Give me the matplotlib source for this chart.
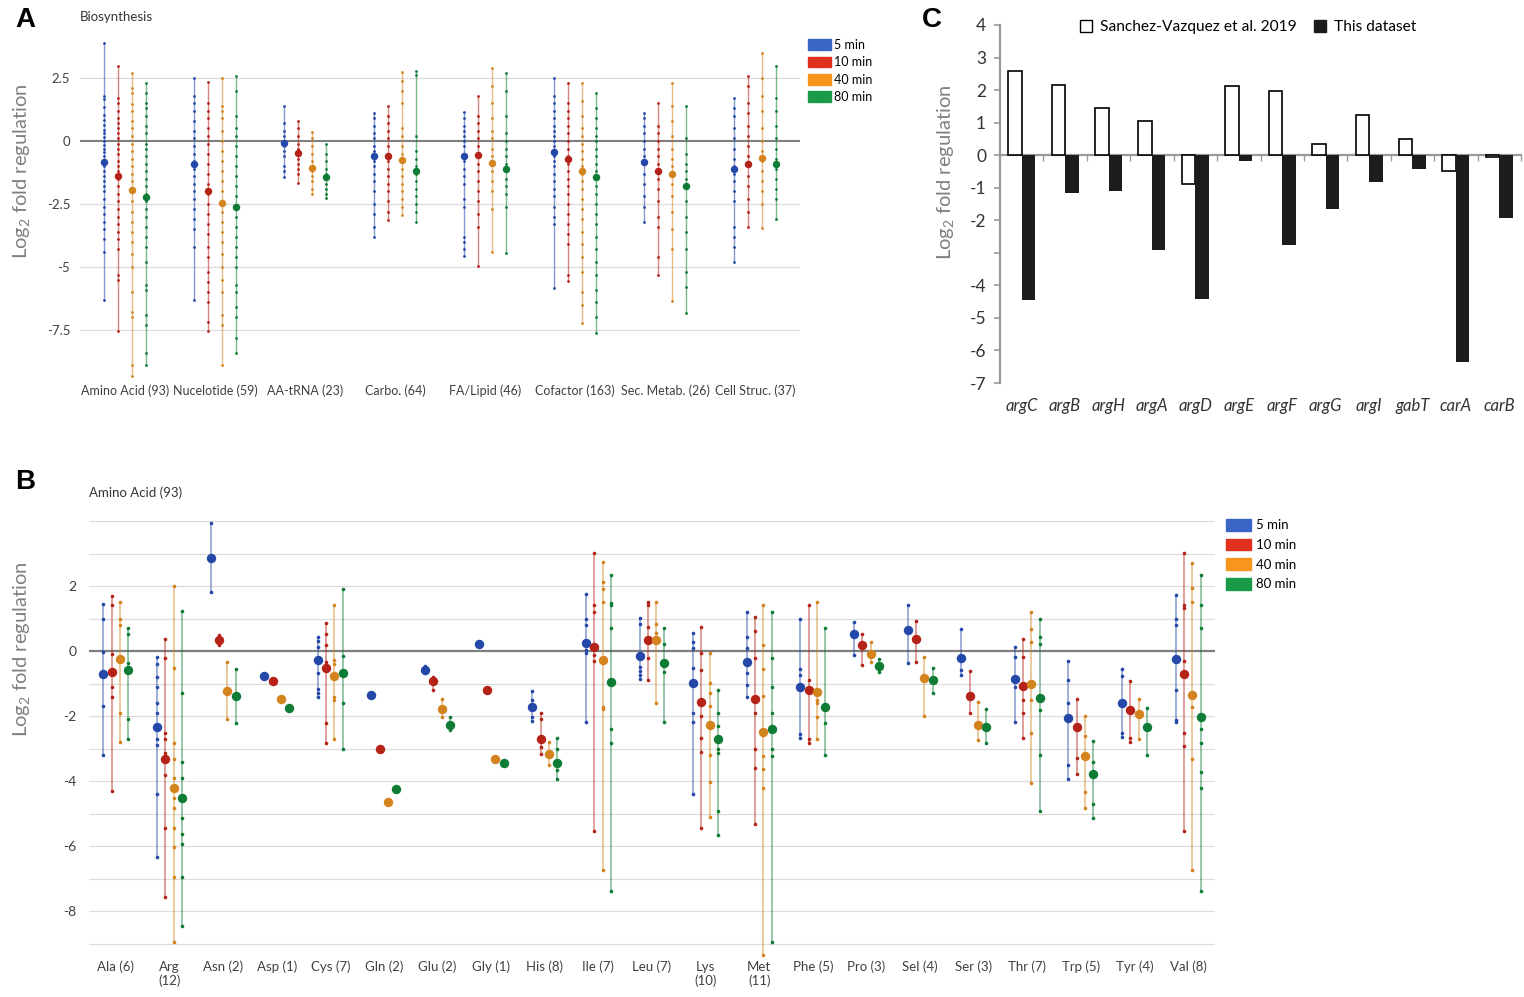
import matplotlib
matplotlib.use("Agg")
import matplotlib.pyplot as plt
from matplotlib.patches import Patch
from matplotlib.lines import Line2D
import numpy as np

plt.rcParams['font.family'] = ['Lato', 'DejaVu Sans']
plt.rcParams['mathtext.fontset'] = 'custom'
plt.rcParams['mathtext.rm'] = 'Lato'
plt.rcParams['mathtext.it'] = 'Lato:italic'

times = ['5 min', '10 min', '40 min', '80 min']
legend_colors = ['#3a67c7', '#e0301e', '#f7951d', '#1b9b4a']
dot_colors = ['#2448a8', '#b52218', '#d4841f', '#0e7c34']

# ---- panel A: biosynthesis categories ----
a_categories = ['Amino Acid (93)', 'Nucelotide (59)', 'AA-tRNA (23)', 'Carbo. (64)',
                'FA/Lipid (46)', 'Cofactor (163)', 'Sec. Metab. (26)', 'Cell Struc. (37)']
a_mean_5 = [-0.82, -0.93, -0.09, -0.60, -0.61, -0.44, -0.85, -1.12]
a_mean_10 = [-1.38, -1.97, -0.49, -0.60, -0.54, -0.73, -1.19, -0.93]
a_mean_40 = [-1.94, -2.45, -1.08, -0.75, -0.86, -1.20, -1.31, -0.69]
a_mean_80 = [-2.24, -2.63, -1.44, -1.19, -1.12, -1.43, -1.77, -0.90]

a_pts_5 = [
    [3.88, 1.8, 1.65, 1.35, 1.05, 0.85, 0.65, 0.45, 0.3, 0.15, 0.0, -0.15, -0.3, -0.45, -0.6, -0.8, -1.0,
     -1.2, -1.4, -1.6, -1.8, -2.0, -2.3, -2.6, -2.9, -3.2, -3.5, -3.9, -4.4, -6.31],
    [2.49, 1.8, 1.5, 1.2, 0.8, 0.4, 0.1, -0.2, -0.5, -0.8, -1.1, -1.4, -1.7, -2.0, -2.3, -2.7, -3.1,
     -3.5, -4.2, -6.31],
    [1.40, 0.7, 0.4, 0.2, 0.0, -0.1, -0.2, -0.4, -0.6, -1.0, -1.2, -1.44],
    [1.12, 0.9, 0.6, 0.3, 0.1, -0.2, -0.4, -0.6, -0.8, -1.0, -1.3, -1.6, -2.0, -2.5, -2.9, -3.4, -3.82],
    [1.14, 0.9, 0.6, 0.4, 0.2, 0.0, -0.2, -0.5, -0.8, -1.1, -1.4, -1.7, -2.3, -2.6, -3.8, -4.0, -4.3, -4.56],
    [2.49, 1.8, 1.5, 1.2, 0.9, 0.6, 0.4, 0.2, 0.0, -0.2, -0.4, -0.6, -0.8, -1.0, -1.3, -1.6, -1.9, -2.2,
     -2.6, -3.0, -3.3, -5.85],
    [1.10, 0.9, 0.6, 0.3, 0.0, -0.3, -0.6, -0.9, -1.3, -1.7, -2.2, -2.6, -3.23],
    [1.69, 1.3, 1.0, 0.5, 0.1, -0.3, -0.7, -1.0, -1.3, -1.6, -2.0, -2.4, -3.4, -3.8, -4.2, -4.81],
]
a_pts_10 = [
    [2.99, 1.7, 1.5, 1.2, 0.9, 0.7, 0.5, 0.3, 0.1, -0.1, -0.3, -0.5, -0.8, -1.0, -1.2, -1.5, -1.8, -2.1,
     -2.4, -2.7, -3.0, -3.3, -3.6, -3.9, -4.3, -5.3, -5.5, -7.53],
    [2.35, 1.5, 1.2, 0.9, 0.5, 0.2, -0.1, -0.5, -0.9, -1.3, -1.7, -2.1, -2.5, -2.9, -3.3, -3.7, -4.2,
     -4.6, -5.2, -5.6, -6.0, -6.4, -7.2, -7.54],
    [0.81, 0.5, 0.2, -0.1, -0.3, -0.5, -0.7, -0.9, -1.1, -1.3, -1.65],
    [1.40, 1.0, 0.7, 0.4, 0.1, -0.2, -0.5, -0.8, -1.1, -1.4, -1.7, -2.0, -2.4, -2.8, -3.13],
    [1.79, 1.0, 0.7, 0.4, 0.1, -0.2, -0.6, -0.9, -1.2, -1.6, -2.0, -2.4, -2.9, -3.4, -4.95],
    [2.31, 1.5, 1.2, 0.9, 0.6, 0.3, 0.0, -0.3, -0.6, -0.9, -1.2, -1.5, -1.8, -2.1, -2.5, -2.9, -3.3,
     -3.7, -4.1, -5.3, -5.56],
    [1.52, 0.6, 0.3, 0.0, -0.3, -0.6, -0.9, -1.2, -1.5, -1.9, -2.4, -3.0, -3.4, -4.6, -5.32],
    [2.58, 2.2, 1.5, 1.1, 0.6, 0.2, -0.2, -0.6, -1.0, -1.4, -1.8, -2.3, -2.8, -3.40],
]
a_pts_40 = [
    [2.71, 2.1, 1.9, 1.45, 1.2, 0.8, 0.5, 0.2, -0.1, -0.4, -0.7, -1.0, -1.3, -1.6, -2.0, -2.4, -2.8,
     -3.2, -3.6, -4.0, -4.5, -5.0, -6.0, -6.8, -7.0, -8.9, -9.31],
    [2.51, 1.4, 1.2, 0.9, 0.4, 0.0, -0.4, -0.8, -1.2, -1.6, -2.0, -2.4, -2.8, -3.2, -3.6, -4.0, -4.5,
     -5.0, -5.5, -6.0, -6.9, -7.3, -8.9],
    [0.37, 0.1, -0.2, -0.5, -0.8, -1.0, -1.2, -1.4, -1.6, -1.9, -2.12],
    [2.72, 2.4, 2.0, 1.5, 0.5, 0.2, -0.2, -0.5, -0.8, -1.1, -1.4, -1.7, -2.0, -2.3, -2.6, -2.94],
    [2.91, 2.2, 1.5, 0.9, 0.4, 0.1, -0.3, -0.6, -0.9, -1.2, -1.6, -2.0, -2.7, -4.39],
    [2.31, 1.6, 1.0, 0.5, 0.2, -0.1, -0.4, -0.7, -1.0, -1.3, -1.6, -1.9, -2.3, -2.7, -3.1, -3.6, -4.1,
     -4.6, -5.2, -6.0, -6.5, -7.21],
    [2.31, 1.4, 0.8, 0.2, -0.3, -0.7, -1.0, -1.3, -1.7, -2.2, -2.8, -3.5, -4.3, -6.34],
    [3.51, 2.5, 1.8, 1.2, 0.5, 0.0, -0.4, -0.8, -1.2, -1.6, -2.0, -2.5, -3.44],
]
a_pts_80 = [
    [2.31, 1.9, 1.5, 1.3, 1.0, 0.6, 0.3, -0.1, -0.3, -0.6, -0.9, -1.2, -1.5, -1.8, -2.1, -2.4, -2.7,
     -3.0, -3.4, -3.8, -4.2, -4.8, -5.7, -5.9, -6.9, -7.3, -8.4, -8.89],
    [2.58, 2.0, 1.0, 0.5, 0.2, -0.2, -0.6, -1.0, -1.4, -1.8, -2.2, -2.6, -3.0, -3.4, -3.8, -4.2, -4.6,
     -5.0, -5.7, -6.0, -6.6, -7.0, -7.8, -8.43],
    [-0.12, -0.5, -0.8, -1.1, -1.3, -1.5, -1.7, -1.9, -2.1, -2.26],
    [2.79, 2.6, 0.2, -0.4, -0.7, -1.0, -1.3, -1.6, -1.9, -2.2, -2.5, -2.8, -3.20],
    [2.71, 2.0, 1.0, 0.3, 0.0, -0.3, -0.6, -0.9, -1.2, -1.5, -1.8, -2.1, -2.6, -4.43],
    [1.89, 1.3, 0.9, 0.5, 0.2, 0.0, -0.3, -0.6, -0.9, -1.2, -1.5, -1.8, -2.1, -2.5, -2.9, -3.3, -3.8,
     -4.3, -4.8, -5.3, -5.9, -6.4, -7.0, -7.63],
    [1.40, 0.1, -0.5, -0.9, -1.2, -1.5, -1.8, -2.4, -3.0, -3.6, -4.3, -5.2, -5.8, -6.83],
    [2.99, 1.7, 1.2, 0.6, 0.1, -0.3, -0.7, -1.1, -1.5, -1.9, -2.3, -3.11],
]

# ---- panel B: amino acid pathways ----
b_categories = ['Ala (6)', 'Arg\n(12)', 'Asn (2)', 'Asp (1)', 'Cys (7)', 'Gln (2)', 'Glu (2)', 'Gly (1)',
                'His (8)', 'Ile (7)', 'Leu (7)', 'Lys\n(10)', 'Met\n(11)', 'Phe (5)', 'Pro (3)', 'Sel (4)',
                'Ser (3)', 'Thr (7)', 'Trp (5)', 'Tyr (4)', 'Val (8)']
b_mean_5 = [-0.71, -2.34, 2.85, -0.77, -0.28, -1.35, -0.58, 0.21, -1.73, 0.26, -0.15, -0.97, -0.33,
            -1.10, 0.53, 0.64, -0.21, -0.87, -2.06, -1.61, -0.25]
b_mean_10 = [-0.65, -3.33, 0.33, -0.91, -0.53, -3.0, -0.91, -1.2, -2.70, 0.13, 0.34, -1.56, -1.49,
             -1.2, 0.18, 0.36, -1.38, -1.08, -2.33, -1.82, -0.72]
b_mean_40 = [-0.25, -4.21, -1.22, -1.48, -0.77, -4.66, -1.79, -3.33, -3.18, -0.28, 0.34, -2.28, -2.48,
             -1.26, -0.10, -0.84, -2.29, -1.03, -3.22, -1.95, -1.36]
b_mean_80 = [-0.58, -4.53, -1.38, -1.75, -0.69, -4.26, -2.29, -3.44, -3.44, -0.94, -0.36, -2.70, -2.39,
             -1.73, -0.46, -0.88, -2.34, -1.45, -3.78, -2.33, -2.02]

b_pts_5 = [
    [1.44, 1.0, -0.03, -1.69, -3.21],
    [-0.17, -0.4, -0.81, -1.11, -1.61, -1.92, -2.7, -2.9, -4.41, -6.35],
    [3.93, 1.82],
    [],
    [0.44, 0.31, 0.13, -0.67, -1.16, -1.28, -1.41],
    [],
    [-0.46, -0.69],
    [],
    [-1.22, -1.51, -2.02, -2.14],
    [1.74, 1.0, 0.8, 0.03, -0.05, -2.19],
    [1.02, 0.83, -0.48, -0.6, -0.74, -0.87],
    [0.56, 0.29, 0.08, -0.53, -1.9, -2.19, -4.41],
    [1.21, 0.44, 0.08, -0.69, -1.05, -1.43],
    [1.0, -0.55, -0.74, -2.56, -2.67],
    [0.88, -0.12],
    [1.42, -0.38],
    [0.68, -0.58, -0.74],
    [0.13, -0.17, -1.10, -2.19],
    [-0.30, -0.89, -1.61, -3.51, -3.93],
    [-0.55, -0.77, -2.51, -2.64],
    [1.72, 0.97, 0.8, -1.2, -2.12, -2.19],
]
b_pts_10 = [
    [1.69, 1.42, -0.09, -1.10, -1.41, -4.31],
    [0.36, -0.23, -2.51, -2.7, -3.15, -3.82, -5.44, -7.56],
    [0.48, 0.18],
    [],
    [0.85, 0.51, 0.18, -0.33, -2.23, -2.82],
    [],
    [-0.79, -1.2],
    [],
    [-1.90, -2.1, -2.94, -3.17],
    [3.03, 1.42, 1.21, -0.12, -0.31, -5.54],
    [1.52, 1.42, 0.75, -0.23, -0.89],
    [0.75, -0.05, -0.58, -2.0, -2.69, -3.12, -5.46],
    [1.04, 0.62, -0.23, -1.92, -3.02, -3.61, -5.32],
    [1.42, -0.89, -2.72, -2.82],
    [0.52, -0.43],
    [0.92, -0.34],
    [-0.6, -1.92],
    [0.37, -0.17, -1.51, -1.92, -2.69],
    [-1.49, -3.30, -3.79],
    [-0.91, -2.69, -2.79],
    [3.01, 1.42, 1.33, -0.31, -2.51, -2.92, -5.54],
]
b_pts_40 = [
    [1.52, 1.0, 0.79, -1.92, -2.8],
    [2.0, -0.52, -2.82, -3.33, -3.92, -4.53, -4.84, -5.44, -6.04, -6.94, -8.96],
    [-0.34, -2.1],
    [],
    [1.41, -0.28, -0.41, -1.41, -1.51, -2.72],
    [],
    [-1.49, -2.02],
    [],
    [-2.79, -3.51],
    [2.74, 2.11, 1.92, 1.52, -1.71, -1.79, -6.74],
    [1.52, 0.82, 0.54, -1.61],
    [-0.05, -0.99, -1.3, -1.69, -3.2, -4.02, -5.12],
    [1.43, 0.19, -0.55, -1.38, -3.22, -3.63, -4.23, -9.35],
    [1.52, -1.51, -1.61, -2.02, -2.72],
    [0.29, -0.33],
    [-0.19, -2.0],
    [-1.58, -2.74],
    [1.21, 0.68, 0.29, -1.51, -2.51, -4.05],
    [-1.99, -2.61, -4.33, -4.82],
    [-1.48, -2.72],
    [2.72, 1.93, 1.52, -1.71, -3.31, -6.74],
]
b_pts_80 = [
    [0.70, 0.51, -0.36, -2.09, -2.72],
    [1.24, -1.30, -3.41, -3.92, -4.58, -5.13, -5.64, -5.94, -6.94, -8.45],
    [-0.55, -2.2],
    [],
    [1.91, -0.15, -1.61, -3.03],
    [],
    [-2.02, -2.43],
    [],
    [-2.67, -3.0, -3.66, -3.94],
    [2.33, 1.49, 1.42, 0.70, -2.4, -2.82, -7.37],
    [0.70, 0.21, -0.64, -2.19],
    [-1.2, -1.92, -2.31, -3.03, -3.15, -4.92, -5.65],
    [1.21, -0.23, -1.10, -1.92, -3.02, -3.22, -8.94],
    [0.70, -2.2, -3.21],
    [-0.26, -0.66],
    [-0.53, -1.30],
    [-1.79, -2.82],
    [0.97, 0.44, 0.22, -1.82, -3.21, -4.91],
    [-2.77, -3.43, -4.72, -5.15],
    [-1.76, -3.2],
    [2.33, 1.42, 0.70, -2.4, -2.82, -3.72, -4.23, -7.37],
]

# ---- panel C: arg genes ----
genes = ['argC', 'argB', 'argH', 'argA', 'argD', 'argE', 'argF', 'argG', 'argI', 'gabT', 'carA', 'carB']
sanchez = [2.6, 2.15, 1.45, 1.05, -0.9, 2.12, 1.98, 0.35, 1.22, 0.5, -0.5, -0.07]
this_dataset = [-4.45, -1.17, -1.1, -2.9, -4.43, -0.18, -2.77, -1.65, -0.83, -0.43, -6.35, -1.93]


def draw_groups(ax, pts_by_time, means_by_time, ms_small, ms_big, lw):
    step = 0.155
    for k in range(4):
        off = (k - 1.5) * step
        for i, (pts, m) in enumerate(zip(pts_by_time[k], means_by_time[k])):
            x = i + off
            if pts:
                ax.vlines(x, min(pts), max(pts), color=dot_colors[k], lw=lw, alpha=0.55, zorder=2)
                ax.plot([x] * len(pts), pts, 'o', ms=ms_small, color=dot_colors[k], mec='none', zorder=3)
            ax.plot(x, m, 'o', ms=ms_big, color=dot_colors[k], mec='none', zorder=4)


def style_strip_axes(ax):
    for s in ax.spines.values():
        s.set_visible(False)
    ax.tick_params(length=0, colors='#404040')


fig = plt.figure(figsize=(15.24, 9.97), dpi=100)
W, H = 1524, 997


def px_axes(x0, y0, x1, y1):
    return fig.add_axes([x0 / W, 1 - y1 / H, (x1 - x0) / W, (y1 - y0) / H])


# Panel A
axA = px_axes(80, 30, 800, 380)
axA.set_ylim((141 - 380) / 25.2, (141 - 30) / 25.2)
axA.set_xlim(-0.5, len(a_categories) - 0.5)
for v in [2.5, -2.5, -5, -7.5]:
    axA.axhline(v, color='#dcdcdc', lw=0.9, zorder=0)
axA.axhline(0, color='#7f7f7f', lw=1.5, zorder=1)
draw_groups(axA, [a_pts_5, a_pts_10, a_pts_40, a_pts_80],
            [a_mean_5, a_mean_10, a_mean_40, a_mean_80], 2.0, 5.4, 1.0)
axA.set_yticks([2.5, 0, -2.5, -5, -7.5])
axA.set_yticklabels(['2.5', '0', '-2.5', '-5', '-7.5'], fontsize=9.5)
axA.set_xticks(range(len(a_categories)))
axA.set_xticklabels(a_categories, fontsize=9)
style_strip_axes(axA)
axA.tick_params(axis='y', pad=7)
axA.tick_params(axis='x', pad=3)
fig.legend(handles=[Patch(color=c, label=t) for c, t in zip(legend_colors, times)],
           loc='upper left', bbox_to_anchor=(808 / W, 1 - 39 / H), frameon=False, fontsize=9,
           handlelength=1.8, handleheight=0.95, handletextpad=0.3, labelspacing=0.42, borderpad=0,
           borderaxespad=0)
fig.text(80 / W, 1 - 17 / H, 'Biosynthesis', fontsize=9.5, va='center', ha='left', color='#333333')

# Panel B
b_unit = 32.5
axB = px_axes(89, 651 - 4.1 * b_unit, 1215, 651 + 9.45 * b_unit)
axB.set_ylim(-9.45, 4.1)
axB.set_xlim(-0.5, len(b_categories) - 0.5)
for v in range(-9, 5):
    if v != 0:
        axB.axhline(v, color='#dcdcdc', lw=0.9, zorder=0)
axB.axhline(0, color='#7f7f7f', lw=1.6, zorder=1)
draw_groups(axB, [b_pts_5, b_pts_10, b_pts_40, b_pts_80],
            [b_mean_5, b_mean_10, b_mean_40, b_mean_80], 2.6, 6.8, 1.1)
axB.set_yticks([2, 0, -2, -4, -6, -8])
axB.set_yticklabels(['2', '0', '-2', '-4', '-6', '-8'], fontsize=10)
axB.set_xticks(range(len(b_categories)))
axB.set_xticklabels(b_categories, fontsize=9.5, va='top', linespacing=1.1)
style_strip_axes(axB)
axB.tick_params(axis='y', pad=9)
axB.tick_params(axis='x', pad=2)
fig.legend(handles=[Patch(color=c, label=t) for c, t in zip(legend_colors, times)],
           loc='upper left', bbox_to_anchor=(1226 / W, 1 - 519 / H), frameon=False, fontsize=9.5,
           handlelength=1.9, handleheight=1.0, handletextpad=0.35, labelspacing=0.55, borderpad=0,
           borderaxespad=0)
fig.text(89 / W, 1 - 493 / H, 'Amino Acid (93)', fontsize=9.5, va='center', ha='left', color='#333333')

# Panel C
axC = px_axes(1000, 25, 1521, 383)
x = np.arange(len(genes))
w = 0.31
axC.bar(x - w / 2, sanchez, w, facecolor='white', edgecolor='black', lw=1.2, zorder=3)
axC.bar(x + w / 2, this_dataset, w, color='#1c1c1c', zorder=3)
axC.set_ylim(-7, 4)
axC.set_xlim(-0.5, len(genes) - 0.5)
axC.set_yticks(range(-7, 5))
axC.set_yticklabels(['' if v == -3 else str(v) for v in range(-7, 5)], fontsize=12.5, color='#333333')
for s in ['top', 'right']:
    axC.spines[s].set_visible(False)
axC.spines['left'].set_color('#9a9a9a')
axC.spines['left'].set_linewidth(1.6)
axC.spines['bottom'].set_position(('data', 0))
axC.spines['bottom'].set_color('#9a9a9a')
axC.spines['bottom'].set_linewidth(1.6)
axC.set_xticks(np.arange(len(genes)) + 0.5)
axC.set_xticklabels([])
axC.tick_params(axis='y', length=4, width=1.2, color='#9a9a9a', pad=6)
axC.tick_params(axis='x', length=4, width=1.0, color='#9a9a9a')
secC = axC.secondary_xaxis(0.0)
secC.set_xticks(x)
secC.set_xticklabels(genes, fontsize=12, style='italic', color='#333333')
secC.tick_params(length=0, pad=11)
secC.spines['bottom'].set_visible(False)
axC.legend(handles=[Line2D([], [], marker='s', ls='none', mfc='white', mec='black', ms=8, mew=1.0,
                           label='Sanchez-Vazquez et al. 2019'),
                    Line2D([], [], marker='s', ls='none', mfc='#1c1c1c', mec='#1c1c1c', ms=8,
                           label='This dataset')],
           loc='center', bbox_to_anchor=(1247 / W, 1 - 27 / H), bbox_transform=fig.transFigure,
           ncol=2, frameon=False, fontsize=11.2, handlelength=1.0, handletextpad=0.4,
           columnspacing=1.0, borderpad=0)

# y labels and panel letters
ylab = 'Log$_2$ fold regulation'
fig.text(22 / W, 1 - 171 / H, ylab, rotation=90, fontsize=14.5, color='#808080', ha='center', va='center')
fig.text(22 / W, 1 - 649 / H, ylab, rotation=90, fontsize=14.5, color='#808080', ha='center', va='center')
fig.text(945 / W, 1 - 172 / H, ylab, rotation=90, fontsize=14.5, color='#808080', ha='center', va='center')
for letter, (lx, ly) in zip('ABC', [(25, 20), (25, 482), (932, 20)]):
    fig.text(lx / W, 1 - ly / H, letter, fontsize=20, fontweight='bold', family='Liberation Sans',
             ha='center', va='center')

fig.savefig('out.png', dpi=100)
